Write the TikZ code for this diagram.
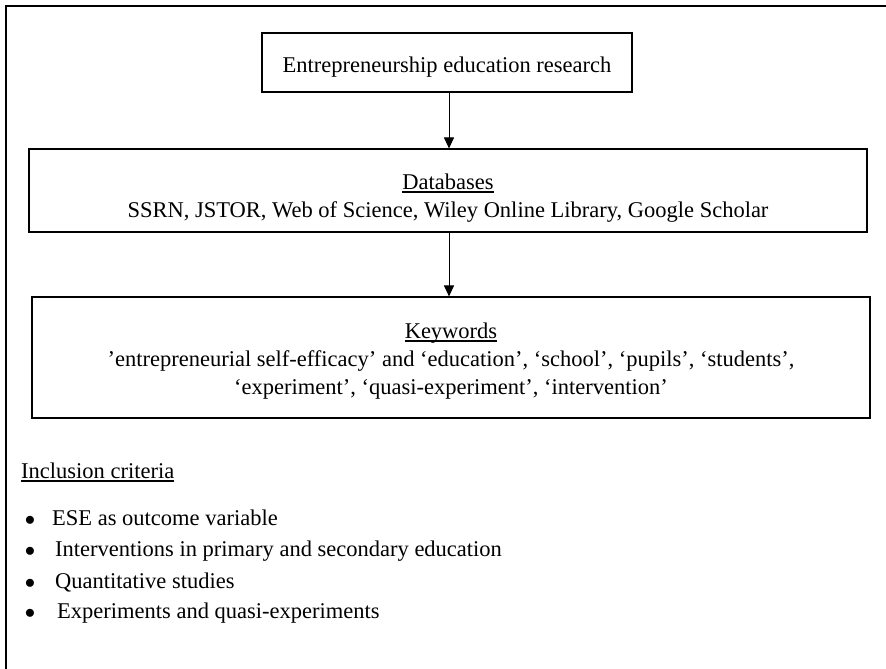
\documentclass[tikz,border=0pt]{standalone}
\usepackage{fontspec}
\setmainfont{Liberation Serif}
\usetikzlibrary{arrows.meta}
\newcommand\myul[1]{\setbox0=\hbox{#1}\rlap{\rule[-3.6pt]{\wd0}{1.4pt}}\box0}
\begin{document}
\begin{tikzpicture}[x=1pt,y=-1pt,
  box/.style={draw, line width=1.1pt, inner sep=0pt},
  txt/.style={inner sep=0pt, font=\fontsize{22.5}{28}\selectfont},
  arr/.style={line width=1pt, -{Triangle[width=10pt,length=11pt]}}]
\useasboundingbox (0,0) rectangle (886,669);
% outer frame (only top and left edges visible)
\draw[line width=2pt] (6,669) -- (6,6) -- (886,6);
\coordinate (ax) at (449,0);
% boxes
\node[box, minimum width=370pt, minimum height=59pt] (b1) at (447,62.5) {};
\node[box, minimum width=838pt, minimum height=83pt] (b2) at (448,190.5) {};
\node[box, minimum width=838pt, minimum height=121pt] (b3) at (451,357.5) {};
% box texts
\node[txt, anchor=base] (t1) at (447,73) {Entrepreneurship education research};
\node[txt, anchor=base] (t2a) at (448,189) {\myul{Databases}};
\node[txt, anchor=base] (t2b) at (448,217) {SSRN, JSTOR, Web of Science, Wiley Online Library, Google Scholar};
\node[txt, anchor=base] (t3a) at (451,338) {\myul{Keywords}};
\node[txt, anchor=base] (t3b) at (451,366) {’entrepreneurial self-efficacy’ and ‘education’, ‘school’, ‘pupils’, ‘students’,};
\node[txt, anchor=base] (t3c) at (451,394) {‘experiment’, ‘quasi-experiment’, ‘intervention’};
% connectors
\draw[arr] (b1.south -| ax) -- (b2.north -| ax);
\draw[arr] (b2.south -| ax) -- (b3.north -| ax);
% inclusion criteria
\node[txt, anchor=base west] (inc) at (21,478) {\myul{Inclusion criteria}};
\node[txt, anchor=base] (d1) at (30,525) {$\bullet$};
\node[txt, anchor=base] (d2) at (30,556) {$\bullet$};
\node[txt, anchor=base] (d3) at (30,588) {$\bullet$};
\node[txt, anchor=base] (d4) at (30,618) {$\bullet$};
\node[txt, anchor=base west] (i1) at (52,525) {ESE as outcome variable};
\node[txt, anchor=base west] (i2) at (55,556) {Interventions in primary and secondary education};
\node[txt, anchor=base west] (i3) at (55,588) {Quantitative studies};
\node[txt, anchor=base west] (i4) at (57,618) {Experiments and quasi-experiments};
\end{tikzpicture}
\end{document}
